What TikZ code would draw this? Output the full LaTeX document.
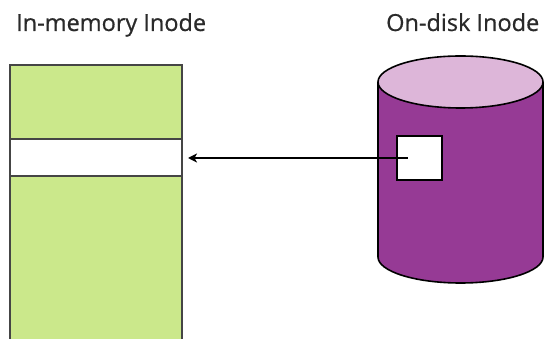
\documentclass[tikz,border=0pt]{standalone}
\usepackage{fontspec}
\setmainfont{Open Sans}
\newfontfamily\titlefont[FakeBold=0.6]{Open Sans}
\usetikzlibrary{arrows.meta}
\definecolor{memgreen}{HTML}{CBE88B}
\definecolor{diskpurple}{HTML}{963A95}
\definecolor{disktop}{HTML}{DDB6D9}
\definecolor{boxborder}{HTML}{454545}
\definecolor{labelgray}{HTML}{2A2A2A}
\tikzset{
  title/.style={anchor=base west, inner sep=0pt, text=labelgray, font=\titlefont\fontsize{23.5}{26}\selectfont},
  membox/.style={draw=boxborder, line width=2pt, fill=memgreen},
  bandbox/.style={draw=boxborder, line width=2pt, fill=white, minimum width=172pt, minimum height=37pt, inner sep=0pt},
  sqbox/.style={draw=black, line width=1.6pt, fill=white, minimum width=45pt, minimum height=44pt, inner sep=0pt},
  cyl/.style={draw=black, line width=1.6pt},
  link/.style={line width=1.7pt, -{Stealth[length=9pt,width=9pt,inset=2.5pt]}}
}
\begin{document}
\begin{tikzpicture}[x=1pt,y=1pt]
\useasboundingbox (0,0) rectangle (545,339);
\clip (0,0) rectangle (545,339);
% labels
\node[title] (lmem) at (16,308) {In-memory Inode};
\node[title] (ldisk) at (386,308) {On-disk Inode};
% in-memory inode
\draw[membox] (10,-10) rectangle (182,274);
\node[bandbox] (band) at (96,181) {};
% on-disk cylinder
\fill[diskpurple] (378,257) -- (378,82) arc[start angle=180, end angle=360, x radius=82.5pt, y radius=26pt] -- (543,257) -- cycle;
\draw[cyl] (378,257) -- (378,82) arc[start angle=180, end angle=360, x radius=82.5pt, y radius=26pt] -- (543,257);
\draw[cyl, fill=disktop] (460.5,257) ellipse[x radius=82.5pt, y radius=26pt];
\node[sqbox] (sq) at (419.5,181) {};
% connector
\draw[link] ([xshift=-12pt]sq.center) -- ([xshift=5pt]band.east);
\end{tikzpicture}
\end{document}
